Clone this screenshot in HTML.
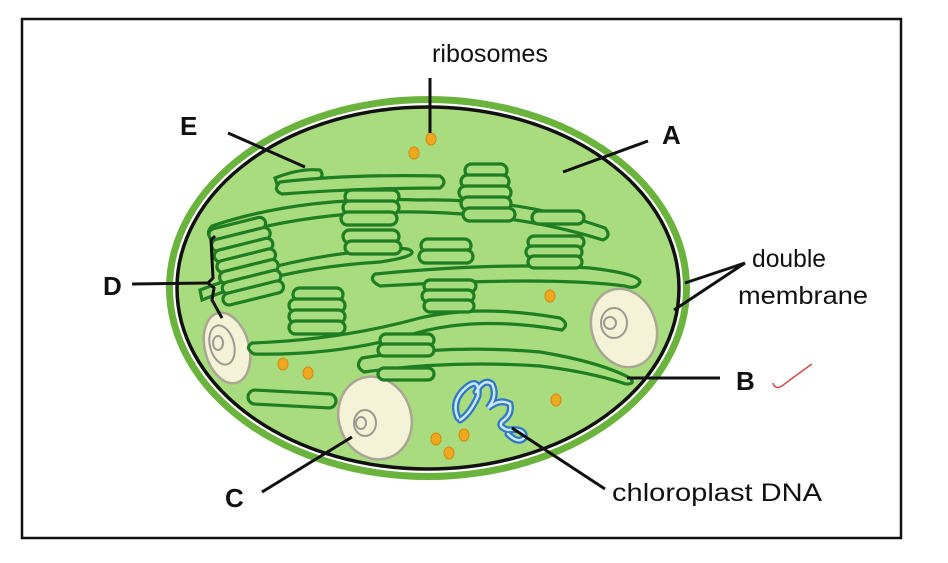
<!DOCTYPE html>
<html><head><meta charset="utf-8"><style>
html,body{margin:0;padding:0;background:#fff;width:948px;height:563px;overflow:hidden}
svg{display:block}
text{font-family:"Liberation Sans",sans-serif;fill:#111}
.d{fill:#a9dc7e;stroke:#1f7d22;stroke-width:3.2}
</style></head><body>
<svg width="948" height="563" viewBox="0 0 948 563" xmlns="http://www.w3.org/2000/svg">
<rect x="22" y="19" width="879" height="519" fill="#fff" stroke="#111" stroke-width="2.5"/>
<ellipse cx="428" cy="288" rx="262" ry="192" fill="#6ab33d"/>
<ellipse cx="428" cy="288" rx="255" ry="185" fill="#fff"/>
<ellipse cx="428" cy="288" rx="251" ry="181" fill="#a9dc7e" stroke="#111" stroke-width="3.5"/>
<g fill="#f4f3d8" stroke="#aaa595" stroke-width="2.5">
<ellipse cx="227" cy="348" rx="22" ry="36" transform="rotate(-15 227 348)"/>
<ellipse cx="375" cy="418" rx="36" ry="42" transform="rotate(-20 375 418)"/>
<ellipse cx="624" cy="328" rx="32" ry="40" transform="rotate(-20 624 328)"/>
</g>
<g fill="none" stroke="#9c9a90" stroke-width="2">
<ellipse cx="222" cy="345" rx="12" ry="20" transform="rotate(-15 222 345)"/><ellipse cx="218" cy="343" rx="5" ry="7"/>
<ellipse cx="365" cy="423" rx="11" ry="13"/><ellipse cx="361" cy="423" rx="5" ry="6"/>
<ellipse cx="614" cy="323" rx="13" ry="15"/><ellipse cx="610" cy="323" rx="6" ry="6"/>
</g>
<g class="d">
<path d="M275 178 Q300 168 320 170 Q325 176 318 180 Q298 186 278 187 Z"/>
<path d="M280 182 Q350 174 440 176 Q448 182 440 188 Q360 188 282 194 Q272 190 280 182Z"/>
<path d="M212 226 Q300 196 420 200 Q520 198 605 228 Q612 236 603 240 Q520 214 420 212 Q310 210 214 240 Q204 234 212 226Z"/>
<path d="M202 300 Q280 268 380 262 Q420 256 410 250 Q405 247 380 250 Q290 256 200 290 Z"/>
<path d="M375 274 Q500 262 590 268 Q640 274 640 282 Q636 290 625 286 Q550 276 380 286 Q368 280 375 274Z"/>
<path d="M252 343 Q340 340 420 318 Q480 304 560 318 Q570 324 562 330 Q480 316 420 332 Q340 356 254 354 Q244 348 252 343Z"/>
<path d="M362 358 Q450 344 540 352 Q600 362 630 378 Q636 384 626 384 Q590 372 540 366 Q450 360 364 372 Q354 366 362 358Z"/>
<rect x="248" y="392" width="88" height="14" rx="7" transform="rotate(3 292 399)"/>
</g>
<g class="d">
<rect x="465" y="164" width="42" height="13" rx="6.5"/><rect x="461" y="175" width="48" height="13" rx="6.5"/><rect x="459" y="186" width="52" height="13" rx="6.5"/><rect x="461" y="197" width="50" height="13" rx="6.5"/><rect x="463" y="208" width="52" height="13" rx="6.5"/>
<rect x="345" y="190" width="54" height="13" rx="6.5"/><rect x="343" y="201" width="56" height="13" rx="6.5"/><rect x="341" y="212" width="56" height="13" rx="6.5"/><rect x="343" y="230" width="56" height="13" rx="6.5"/><rect x="345" y="241" width="56" height="13" rx="6.5"/>
<rect x="532" y="211" width="52" height="13" rx="6.5"/><rect x="528" y="236" width="56" height="12" rx="6"/><rect x="526" y="246" width="56" height="12" rx="6"/><rect x="528" y="256" width="54" height="12" rx="6"/>
<rect x="421" y="239" width="50" height="13" rx="6.5"/><rect x="419" y="250" width="54" height="13" rx="6.5"/><rect x="424" y="280" width="52" height="12" rx="6"/><rect x="422" y="290" width="52" height="12" rx="6"/><rect x="424" y="300" width="50" height="12" rx="6"/>
<rect x="293" y="288" width="50" height="13" rx="6.5"/><rect x="289" y="299" width="56" height="13" rx="6.5"/><rect x="289" y="310" width="56" height="13" rx="6.5"/><rect x="289" y="321" width="56" height="13" rx="6.5"/>
<rect x="380" y="334" width="54" height="12" rx="6"/><rect x="378" y="344" width="56" height="12" rx="6"/><rect x="378" y="368" width="56" height="12" rx="6"/>
<g transform="rotate(-14 245 260)">
<rect x="216" y="222" width="58" height="12" rx="6"/><rect x="216" y="233" width="60" height="12" rx="6"/><rect x="216" y="244" width="60" height="12" rx="6"/><rect x="216" y="255" width="60" height="12" rx="6"/><rect x="216" y="266" width="60" height="12" rx="6"/><rect x="216" y="277" width="60" height="12" rx="6"/><rect x="214" y="288" width="62" height="12" rx="6"/>
</g>
</g>
<g fill="none" stroke="#2e78c8" stroke-width="7" stroke-linecap="round"><path d="M458 418 Q450 400 468 386 Q480 378 478 396 Q470 414 460 420 M476 392 Q484 378 492 384 Q498 396 488 408 Q500 398 510 404 Q512 414 504 420 Q496 426 508 430 Q526 428 524 438 Q518 444 508 434"/></g>
<g fill="none" stroke="#cfe6f7" stroke-width="2.5" stroke-linecap="round"><path d="M458 418 Q450 400 468 386 Q480 378 478 396 Q470 414 460 420 M476 392 Q484 378 492 384 Q498 396 488 408 Q500 398 510 404 Q512 414 504 420 Q496 426 508 430 Q526 428 524 438 Q518 444 508 434"/></g>
<g fill="#f0a820" stroke="#d48a10" stroke-width="1">
<ellipse cx="431" cy="139" rx="5" ry="6"/><ellipse cx="414" cy="153" rx="5" ry="6"/><ellipse cx="550" cy="296" rx="5" ry="6"/><ellipse cx="283" cy="364" rx="5" ry="6"/><ellipse cx="308" cy="373" rx="5" ry="6"/><ellipse cx="556" cy="400" rx="5" ry="6"/><ellipse cx="436" cy="439" rx="5" ry="6"/><ellipse cx="464" cy="435" rx="5" ry="6"/><ellipse cx="449" cy="453" rx="5" ry="6"/>
</g>
<g stroke="#111" stroke-width="3" fill="none">
<line x1="430" y1="78" x2="430" y2="133"/>
<line x1="228" y1="133" x2="305" y2="167"/>
<line x1="648" y1="141" x2="563" y2="172"/>
<line x1="132" y1="284" x2="208" y2="283"/>
<path d="M215 236 L211 240 L213 278 L208 283 L214 288 L212 300 L222 318"/>
<line x1="745" y1="263" x2="685" y2="283"/>
<line x1="745" y1="263" x2="674" y2="310"/>
<line x1="627" y1="378" x2="720" y2="378"/>
<line x1="262" y1="492" x2="352" y2="437"/>
<line x1="512" y1="428" x2="605" y2="489"/>
</g>
<path d="M773 383 Q775 390 782 386 Q795 376 812 364" stroke="#d24a4a" stroke-width="1.5" fill="none"/>
<text x="432" y="62" font-size="25" textLength="116" lengthAdjust="spacingAndGlyphs">ribosomes</text>
<text x="180" y="135" font-size="26" font-weight="bold">E</text>
<text x="662" y="144" font-size="26" font-weight="bold">A</text>
<text x="103" y="295" font-size="26" font-weight="bold">D</text>
<text x="752" y="267" font-size="25" textLength="74" lengthAdjust="spacingAndGlyphs">double</text>
<text x="738" y="304" font-size="25" textLength="130" lengthAdjust="spacingAndGlyphs">membrane</text>
<text x="736" y="390" font-size="26" font-weight="bold">B</text>
<text x="225" y="507" font-size="26" font-weight="bold">C</text>
<text x="612" y="501" font-size="25" textLength="210" lengthAdjust="spacingAndGlyphs">chloroplast DNA</text>
</svg>
</body></html>
